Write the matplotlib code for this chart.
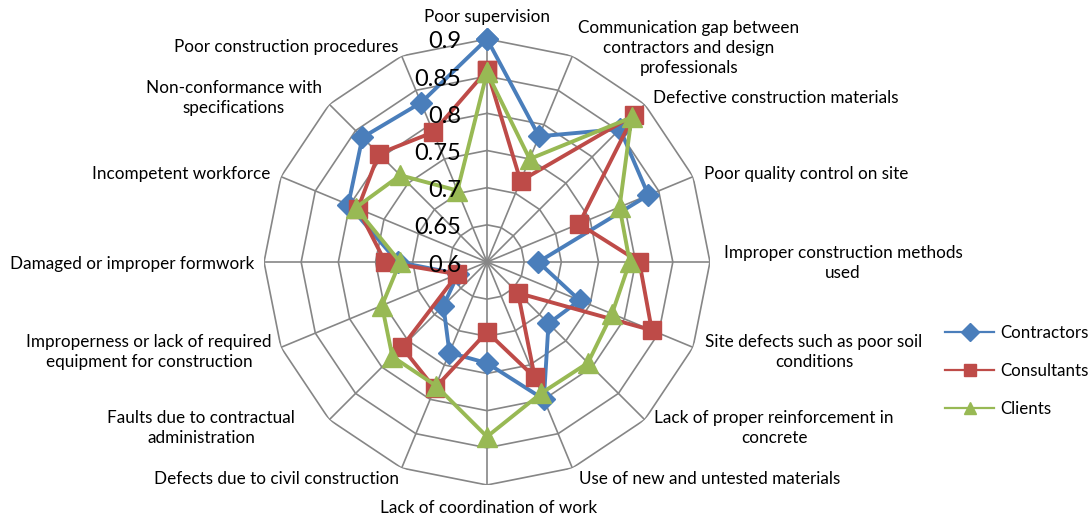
import numpy as np
import matplotlib.pyplot as plt

plt.rcParams['font.family'] = ['Lato', 'DejaVu Sans']

categories = [
    'Poor supervision',
    'Communication gap between\ncontractors and design\nprofessionals',
    'Defective construction materials',
    'Poor quality control on site',
    'Improper construction methods\nused',
    'Site defects such as poor soil\nconditions',
    'Lack of proper reinforcement in\nconcrete',
    'Use of new and untested materials',
    'Lack of coordination of work',
    'Defects due to civil construction',
    'Faults due to contractual\nadministration',
    'Improperness or lack of required\nequipment for construction',
    'Damaged or improper formwork',
    'Incompetent workforce',
    'Non-conformance with\nspecifications',
    'Poor construction procedures',
]

contractors = [0.90, 0.783, 0.853, 0.835, 0.669, 0.735, 0.717, 0.80,
               0.736, 0.732, 0.683, 0.642, 0.72, 0.802, 0.837, 0.832]
consultants = [0.858, 0.718, 0.879, 0.734, 0.805, 0.840, 0.659, 0.768,
               0.694, 0.784, 0.762, 0.643, 0.737, 0.788, 0.806, 0.789]
clients = [0.855, 0.750, 0.875, 0.793, 0.792, 0.782, 0.792, 0.791,
           0.835, 0.780, 0.780, 0.753, 0.717, 0.791, 0.765, 0.704]

ring_levels = [0.65, 0.7, 0.75, 0.8, 0.85, 0.9]
ring_labels = ['0.6', '0.65', '0.7', '0.75', '0.8', '0.85', '0.9']

# label placement (figure pixels, from top-left)
label_pos = [(487, 17), (689, 48), (776, 98), (806, 174), (843, 263),
             (814, 352), (774, 428), (710, 479), (489, 508), (276, 479),
             (201, 428), (149, 352), (132, 264), (181, 174), (234, 98),
             (286, 47)]

W, H = 1090, 520
fig = plt.figure(figsize=(W / 100, H / 100), dpi=100)
cx, cy, R = 487, 262, 223
ax = fig.add_axes([(cx - R) / W, (H - cy - R) / H, 2 * R / W, 2 * R / H],
                  projection='polar')
ax.set_theta_zero_location('N')
ax.set_theta_direction(-1)
ax.set_ylim(0.6, 0.9)
ax.grid(False)
ax.set_xticks([])
ax.set_yticks([])
ax.spines['polar'].set_visible(False)
ax.patch.set_visible(False)

n = len(categories)
theta = np.arange(n) * 2 * np.pi / n
theta_c = np.append(theta, theta[0])

gc = '#868686'
for r in ring_levels:
    ax.plot(theta_c, [r] * (n + 1), color=gc, lw=1.2, zorder=1)
for t in theta:
    ax.plot([t, t], [0.6, 0.9], color=gc, lw=1.2, zorder=1)

series = [
    ('Contractors', contractors, '#4A7EBB', 'D', 11),
    ('Consultants', consultants, '#BE4B48', 's', 13),
    ('Clients', clients, '#98B954', '^', 14),
]
handles = []
for name, vals, col, mk, ms in series:
    v = np.append(vals, vals[0])
    ax.plot(theta_c, v, color=col, lw=2.8, marker=mk, ms=ms, zorder=3,
            clip_on=False)
    h, = ax.plot([], [], color=col, lw=1.6, marker=mk, ms=9, label=name)
    handles.append(h)

# radial value labels along the top spoke
all_levels = [0.6] + ring_levels
for lv, txt in zip(all_levels, ring_labels):
    y = cy - (lv - 0.6) / 0.3 * R
    fig.text(461 / W, 1 - (y + 3) / H, txt, ha='right', va='center',
             fontsize=17, zorder=10)

for lab, (px, py) in zip(categories, label_pos):
    fig.text(px / W, 1 - py / H, lab, ha='center', va='center',
             fontsize=12.3, linespacing=1.3)

fig.legend(handles=handles, loc='upper left',
           bbox_to_anchor=(930 / W, 1 - 310 / H), frameon=False,
           fontsize=12.2, handlelength=2.9, labelspacing=1.3,
           handletextpad=0.35)

fig.savefig('out.png', dpi=100)
